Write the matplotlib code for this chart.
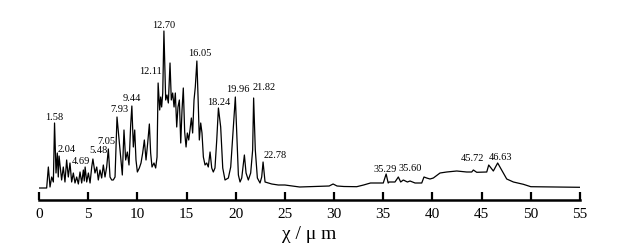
import numpy as np
import matplotlib
matplotlib.use("Agg")
from matplotlib import pyplot as plt

# spectrum (x in um, intensity in arbitrary units)
wavelength = [
    0.0, 0.78, 0.95, 1.12, 1.29, 1.46, 1.58, 1.73, 1.86, 1.96, 2.04, 2.30, 2.47,
    2.64, 2.81, 2.98, 3.15, 3.32, 3.49, 3.66, 3.83, 4.00, 4.17, 4.34, 4.51, 4.60,
    4.69, 4.85, 5.02, 5.19, 5.36, 5.48, 5.69, 5.87, 6.03, 6.20, 6.37, 6.54, 6.71,
    6.88, 7.05, 7.22, 7.39, 7.55, 7.73, 7.93, 8.17, 8.30, 8.47, 8.64, 8.81, 8.98,
    9.15, 9.32, 9.44, 9.59, 9.73, 9.86, 10.00, 10.20, 10.37, 10.54, 10.71, 10.88,
    11.05, 11.22, 11.35, 11.49, 11.69, 11.86, 12.00, 12.11, 12.27, 12.37, 12.47,
    12.58, 12.70, 12.88, 13.01, 13.15, 13.32, 13.45, 13.59, 13.73, 13.86, 14.00,
    14.13, 14.27, 14.41, 14.54, 14.67, 14.81, 14.95, 15.08, 15.22, 15.35, 15.49,
    15.62, 15.76, 15.89, 16.05, 16.17, 16.30, 16.44, 16.57, 16.71, 16.88, 17.05,
    17.21, 17.39, 17.56, 17.72, 17.89, 18.07, 18.24, 18.47, 18.68, 18.91, 19.25,
    19.49, 19.76, 19.96, 20.10, 20.27, 20.44, 20.61, 20.88, 21.05, 21.28, 21.52,
    21.72, 21.82, 21.99, 22.20, 22.47, 22.64, 22.78, 22.98, 23.31, 23.66, 24.33,
    25.0, 26.5, 28.0, 29.5, 29.9, 30.3, 31.0, 32.3, 33.0, 33.7, 34.3, 35.0, 35.29,
    35.5, 35.6, 35.9, 36.19, 36.53, 36.77, 37.04, 37.45, 37.72, 38.23, 38.91,
    39.14, 39.41, 39.75, 40.09, 40.77, 41.45, 42.47, 43.48, 43.99, 44.16, 44.50,
    45.52, 45.72, 46.19, 46.63, 47.21, 47.55, 48.23, 49.24, 50.0, 55.0,
]
intensity = [
    12, 12, 33, 13, 23, 18, 77, 27, 47, 23, 44, 20, 33,
    18, 40, 23, 37, 18, 27, 17, 23, 16, 28, 17, 30, 19,
    33, 18, 27, 17, 33, 41, 27, 33, 20, 30, 22, 35, 23,
    33, 51, 23, 20, 20, 23, 83, 57, 43, 25, 70, 40, 48,
    35, 75, 94, 53, 70, 40, 28, 32, 37, 47, 60, 40,
    57, 76, 47, 33, 37, 32, 43, 117, 90, 103, 93,
    107, 169, 100, 105, 97, 137, 100, 107, 93, 107, 73,
    93, 100, 57, 90, 112, 68, 53, 67, 60, 70, 82,
    67, 100, 113, 139, 103, 60, 77, 67, 43, 35, 37,
    33, 48, 32, 28, 32, 60, 92, 73, 32, 20, 22,
    33, 73, 103, 67, 25, 18, 22, 45, 27, 20, 27,
    50, 102, 50, 22, 17, 23, 38, 18, 17, 16, 15,
    15, 13, 13.5, 14, 16, 14, 13.5, 13.3, 15, 17, 17, 17, 26,
    17, 18, 18, 18, 23, 18, 20, 18, 19, 17, 17,
    23, 22, 21, 22, 27, 28, 29, 28, 28, 30, 27.7,
    28, 35, 29, 37, 27, 21, 18, 15.7, 13.3, 12.7,
]

peak_labels = ["1.58", "2.04", "4.69", "5.48", "7.05", "7.93", "9.44", "12.11",
               "12.70", "16.05", "18.24", "19.96", "21.82", "22.78", "35.29",
               "35.60", "45.72", "46.63"]
# label centre offsets from the peak tip, in pixels (dx, dy)
label_offsets = [(0, 6), (8, 7), (-4, 6), (6, 9), (-2, 7), (2, 8), (0, 8), (-8, 11),
                 (0, 6), (3, 7), (0, 6), (3, 8), (10, 11), (12, 7), (-1, 5),
                 (21, 14), (-16, 7), (3, 6)]

plt.rcParams["font.family"] = ["Liberation Serif", "DejaVu Serif"]

fig = plt.figure(figsize=(6.24, 2.47), dpi=100)
ax = fig.add_axes([39 / 624, 47 / 247, 541 / 624, 190 / 247])

ax.plot(wavelength, intensity, color="black", linewidth=0.9)

for text, (dx, dy) in zip(peak_labels, label_offsets):
    px = float(text)
    py = np.interp(px, wavelength, intensity)
    ax.annotate(text, xy=(px, py), xytext=(dx, dy), textcoords="offset pixels",
                ha="center", va="center", fontsize=7.5)

ax.set_xlim(0, 55)
ax.set_ylim(0, 190)
ax.set_xticks(range(0, 56, 5))
ax.set_yticks([])
for side in ["top", "right", "left"]:
    ax.spines[side].set_visible(False)
ax.spines["bottom"].set_linewidth(1.8)
ax.tick_params(axis="x", direction="in", length=6, width=1.6, pad=6, labelsize=11)
ax.set_xlabel("χ / μ m", fontsize=14, labelpad=3)
ax.patch.set_visible(False)

fig.savefig("out.png", dpi=100)
